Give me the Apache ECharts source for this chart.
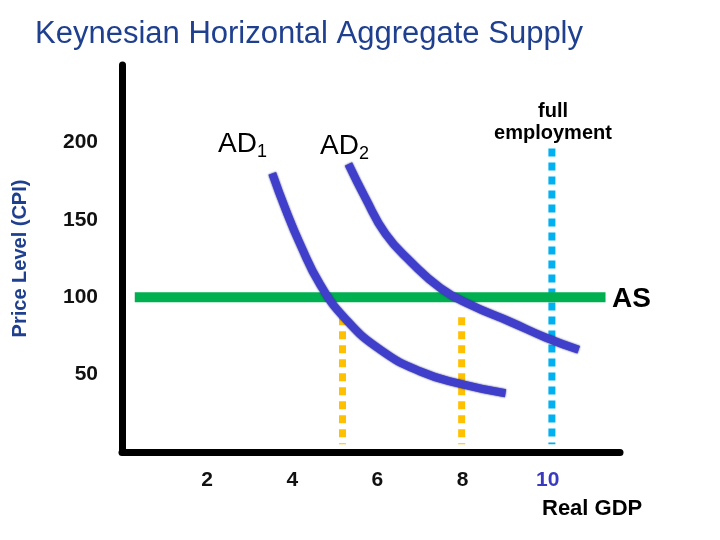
<!DOCTYPE html>
<html lang="en">
<head>
<meta charset="UTF-8">
<title>Keynesian Horizontal Aggregate Supply</title>
<script src="https://cdn.jsdelivr.net/npm/echarts@6/dist/echarts.min.js"></script>
<style>html,body{margin:0;background:#fff}</style>
</head>
<body>
<div id="main" style="width:720px;height:540px;"></div>
<script>
// chart values
var xTicks = [2, 4, 6, 8, 10, 12];
var yTicks = [50, 100, 150, 200];
var ad1 = [[3.53,180],[3.84,157],[4.19,134],[4.66,108],[5.25,86],[6.07,66],[7.01,52],[7.95,44],[9.01,38]];
var ad2 = [[5.32,186],[5.72,164],[6.19,141],[6.78,123],[7.48,106],[8.19,95],[9.13,84],[9.95,74],[10.73,66]];
var asLine = [[0.3,100],[11.36,100]];
var yellow1 = [[5.18,87],[5.18,5]];
var yellow2 = [[7.98,87],[7.98,5]];
var fullEmp = [[10.1,196],[10.1,5]];

var myChart = echarts.init(document.getElementById('main'));
var font = 'Liberation Sans, Arial, sans-serif';

function dashed(name, data, color) {
    return {
        name: name, type: 'line', data: data, symbol: 'none', z: 1,
        lineStyle: { color: color, width: 7, type: [8, 6] }
    };
}

var option = {
    animation: false,
    title: {
        text: 'Keynesian Horizontal Aggregate Supply',
        left: 30, top: 14,
        textStyle: { color: '#1f3f8f', fontSize: 31, fontWeight: 'normal', fontFamily: font }
    },
    grid: { left: 122, right: 100, top: 65, bottom: 88 },
    xAxis: {
        type: 'value', min: 0, max: 11.7, interval: 2,
        axisLine: { lineStyle: { color: '#000', width: 7 } },
        axisTick: { show: false },
        splitLine: { show: false },
        axisLabel: {
            margin: 18, fontSize: 21, fontWeight: 'bold', fontFamily: font, showMaxLabel: true,
            formatter: function (v) { return xTicks.indexOf(v) >= 0 ? (v === 10 ? '{b|' + v + '}' : v) : ''; },
            color: '#111',
            rich: { b: { color: '#3a3ac0', fontSize: 21, fontWeight: 'bold', fontFamily: font } }
        }
    },
    yAxis: {
        type: 'value', min: 0, max: 250, interval: 50,
        name: 'Price Level (CPI)', nameLocation: 'middle', nameGap: 92, nameRotate: 90,
        nameTextStyle: { color: '#1f3f8f', fontSize: 20, fontWeight: 'bold', fontFamily: font },
        axisLine: { show: true, lineStyle: { color: '#000', width: 7 } },
        axisTick: { show: false },
        splitLine: { show: false },
        axisLabel: {
            margin: 24, fontSize: 21, fontWeight: 'bold', fontFamily: font, color: '#111',
            formatter: function (v) { return yTicks.indexOf(v) >= 0 ? v : ''; }
        }
    },
    series: [
        dashed('yellow1', yellow1, '#ffc000'),
        dashed('yellow2', yellow2, '#ffc000'),
        dashed('full employment', fullEmp, '#00b0f0'),
        { name: 'AS', type: 'line', data: asLine, symbol: 'none', z: 2,
          lineStyle: { color: '#00b050', width: 10 } },
        { name: 'AD1', type: 'line', data: ad1, symbol: 'none', smooth: true, z: 3,
          lineStyle: { color: '#3f3fcc', width: 8, shadowColor: '#22227a', shadowBlur: 2 } },
        { name: 'AD2', type: 'line', data: ad2, symbol: 'none', smooth: true, z: 3,
          lineStyle: { color: '#3f3fcc', width: 8, shadowColor: '#22227a', shadowBlur: 2 } }
    ],
    graphic: [
        { type: 'text', left: 218, top: 130, style: { text: 'AD{s|1}', fill: '#000', font: '28px ' + font,
          rich: { s: { fontSize: 18, padding: [16, 0, 0, 0], fill: '#000' } } } },
        { type: 'text', left: 320, top: 132, style: { text: 'AD{s|2}', fill: '#000', font: '28px ' + font,
          rich: { s: { fontSize: 18, padding: [16, 0, 0, 0], fill: '#000' } } } },
        { type: 'text', x: 553, y: 100, style: { text: 'full\nemployment', textAlign: 'center', align: 'center',
          fill: '#000', font: 'bold 20px ' + font, lineHeight: 22 } },
        { type: 'text', left: 612, top: 285, style: { text: 'AS', fill: '#000', font: 'bold 28px ' + font } },
        { type: 'text', left: 542, top: 498, style: { text: 'Real GDP', fill: '#000', font: 'bold 22px ' + font } }
    ]
};
myChart.setOption(option);
</script>
</body>
</html>
